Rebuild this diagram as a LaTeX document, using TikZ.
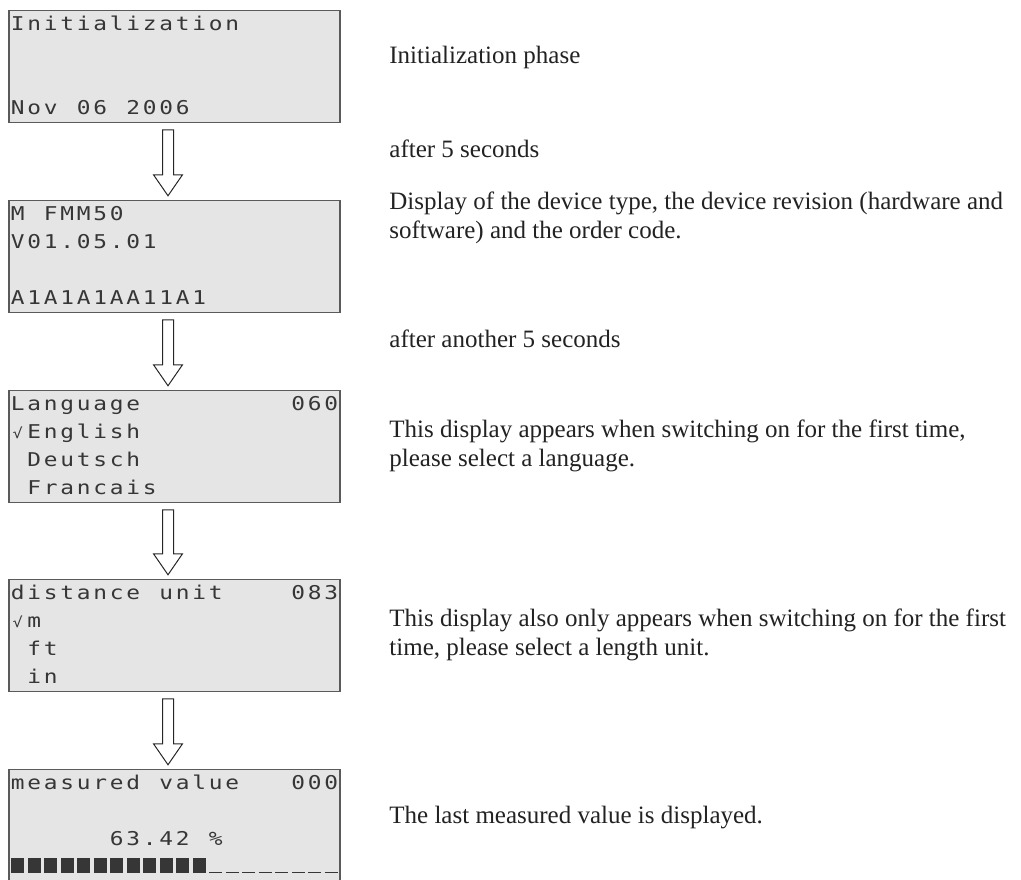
\documentclass[tikz,border=0pt]{standalone}
\usepackage{fontspec}
\setmainfont{Liberation Serif}
\newfontfamily\lcdfont[FakeStretch=1.2]{DejaVu Sans Mono}
\usetikzlibrary{calc}

\definecolor{lcdfill}{HTML}{E5E5E5}
\definecolor{lcdframe}{HTML}{5A5A5A}
\definecolor{lcdink}{HTML}{363636}
\definecolor{descink}{HTML}{222222}

% one display row: every character sits in a cell of its own
\makeatletter
\newcommand\lcdrow[1]{\strut\@tfor\lcdch:=#1\do{\makebox[8.25pt][c]{\lcdch}}}
\makeatother
\newcommand\lcdchk{{\fontsize{7}{7}\selectfont √}}
\newcommand\lcdblk{\textcolor{lcdink}{\rule{6.5pt}{7.5pt}}}
\newcommand\lcddash{\textcolor{lcdink}{\rule{6.5pt}{0.6pt}}}

\begin{document}
\begin{tikzpicture}[x=0.5pt,y=0.5pt,
  lcdbox/.style={draw=lcdframe, line width=0.75pt, fill=lcdfill, inner xsep=0.25pt, inner ysep=0pt,
    text width=165pt, minimum height=55.5pt, align=left, text=lcdink,
    font=\lcdfont\fontsize{9.5}{14}\selectfont},
  desc/.style={anchor=west, align=left, inner sep=0pt, text=descink,
    font=\fontsize{12.5}{14.5}\selectfont},
  blockarrow/.style={draw=black!85, line width=0.5pt, fill=white}]
\useasboundingbox (0,0) rectangle (1021,-879);

\node[lcdbox] (lcdinit) at (174.5,-66.5) {\lcdrow{Initialization}\\\lcdrow{}\\\lcdrow{}\\\lcdrow{Nov~06~2006}};
\node[lcdbox] (lcddev) at (174.5,-256.5) {\lcdrow{M~FMM50}\\\lcdrow{V01.05.01}\\\lcdrow{}\\\lcdrow{A1A1A1AA11A1}};
\node[lcdbox] (lcdlang) at (174.5,-446.5) {\lcdrow{Language~~~~~~~~~060}\\\lcdrow{\lcdchk English}\\\lcdrow{~Deutsch}\\\lcdrow{~Francais}};
\node[lcdbox] (lcdunit) at (174.5,-635.5) {\lcdrow{distance~unit~~~~083}\\\lcdrow{\lcdchk m}\\\lcdrow{~ft}\\\lcdrow{~in}};
\node[lcdbox] (lcdval) at (174.5,-825.5) {\lcdrow{measured~value~~~000}\\\lcdrow{}\\\lcdrow{~~~~~~63.42~\%}\\
  \lcdrow{\lcdblk\lcdblk\lcdblk\lcdblk\lcdblk\lcdblk\lcdblk\lcdblk\lcdblk\lcdblk\lcdblk\lcdblk\lcddash\lcddash\lcddash\lcddash\lcddash\lcddash\lcddash\lcddash}};

\node[desc] (initinfo) at (389,-57) {Initialization phase};
\node[desc] (wait1) at (389,-149) {after 5 seconds};
\node[desc] (devinfo) at (389,-217.5) {Display of the device type, the device revision (hardware and\\software) and the order code.};
\node[desc] (wait2) at (389,-339) {after another 5 seconds};
\node[desc] (langinfo) at (389,-445.5) {This display appears when switching on for the first time,\\please select a language.};
\node[desc] (unitinfo) at (389,-635) {This display also only appears when switching on for the first\\time, please select a length unit.};
\node[desc] (valinfo) at (389,-818) {The last measured value is displayed.};

% hollow arrows between the displays
\foreach \a/\b in {lcdinit/lcddev, lcddev/lcdlang, lcdlang/lcdunit, lcdunit/lcdval}
  \draw[blockarrow] ($(\a.south)+(-12,-6.5)$) -- ($(\b.north)+(-12,25)$) -- ($(\b.north)+(-21,25)$)
    -- ($(\b.north)+(-6.5,4)$) -- ($(\b.north)+(8,25)$) -- ($(\b.north)+(-1,25)$)
    -- ($(\a.south)+(-1,-6.5)$) -- cycle;
\end{tikzpicture}
\end{document}
